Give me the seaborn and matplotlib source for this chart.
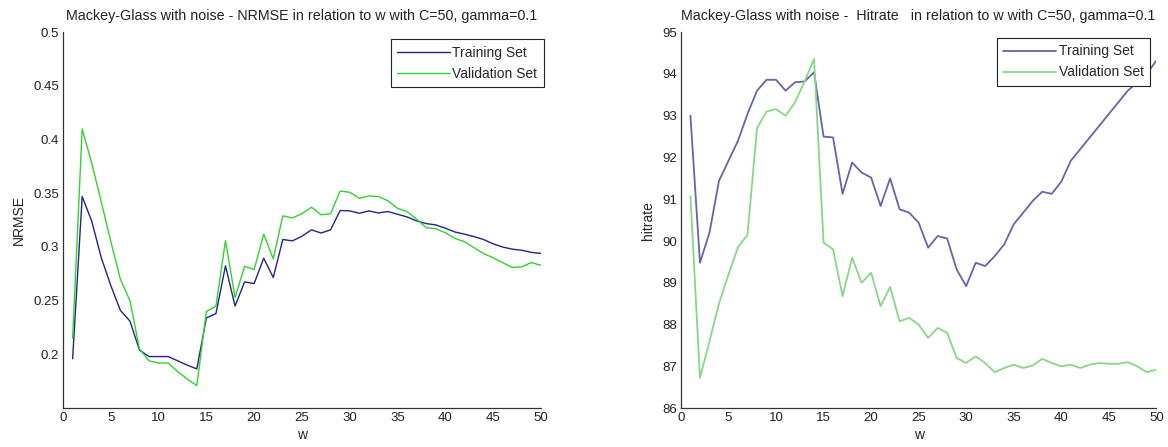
import numpy as np
import pandas as pd
import matplotlib
matplotlib.use("Agg")
import matplotlib.pyplot as plt
import seaborn as sns

# window sizes
w = list(range(1, 51))

# NRMSE per window size
nrmse_train = [0.196, 0.347, 0.324, 0.290, 0.264, 0.241, 0.231, 0.204, 0.198, 0.198,
               0.198, 0.194, 0.190, 0.1865, 0.234, 0.238, 0.2825, 0.245, 0.2675, 0.266,
               0.2896, 0.2716, 0.307, 0.3057, 0.310, 0.316, 0.313, 0.316, 0.334, 0.3336,
               0.3314, 0.3336, 0.3317, 0.333, 0.3305, 0.328, 0.3243, 0.3218, 0.3206, 0.3175,
               0.314, 0.312, 0.3097, 0.307, 0.303, 0.300, 0.298, 0.297, 0.295, 0.294]
nrmse_valid = [0.215, 0.410, 0.378, 0.342, 0.305, 0.270, 0.250, 0.205, 0.194, 0.192,
               0.192, 0.184, 0.177, 0.171, 0.240, 0.245, 0.306, 0.253, 0.282, 0.279,
               0.312, 0.289, 0.329, 0.327, 0.331, 0.337, 0.330, 0.331, 0.352, 0.351,
               0.3454, 0.3475, 0.347, 0.343, 0.336, 0.333, 0.326, 0.318, 0.317, 0.3134,
               0.308, 0.305, 0.2995, 0.294, 0.290, 0.2855, 0.281, 0.2815, 0.2855, 0.283]

# hitrate per window size
hit_train = [93.0, 89.48, 90.2, 91.44, 91.92, 92.4, 93.04, 93.6, 93.86, 93.86,
             93.6, 93.8, 93.82, 94.04, 92.5, 92.48, 91.13, 91.88, 91.64, 91.52,
             90.84, 91.5, 90.76, 90.68, 90.44, 89.84, 90.12, 90.06, 89.32, 88.92,
             89.48, 89.4, 89.64, 89.92, 90.4, 90.68, 90.96, 91.18, 91.13, 91.42,
             91.92, 92.2, 92.48, 92.76, 93.04, 93.32, 93.6, 93.8, 94.0, 94.32]
hit_valid = [91.08, 86.72, 87.6, 88.5, 89.2, 89.85, 90.15, 92.7, 93.1, 93.16,
             93.0, 93.32, 93.82, 94.36, 89.96, 89.8, 88.68, 89.6, 89.0, 89.24,
             88.44, 88.9, 88.08, 88.16, 88.0, 87.68, 87.92, 87.8, 87.2, 87.08,
             87.24, 87.08, 86.86, 86.96, 87.04, 86.96, 87.02, 87.18, 87.08, 87.0,
             87.04, 86.96, 87.04, 87.08, 87.06, 87.06, 87.1, 87.0, 86.86, 86.92]

series_names = ["Training Set", "Validation Set"]
x_ticks = list(range(0, 51, 5))
nrmse_ticks = [0.2, 0.25, 0.3, 0.35, 0.4, 0.45, 0.5]
nrmse_ticklabels = ["0.2", "0.25", "0.3", "0.35", "0.4", "0.45", "0.5"]
hit_ticks = list(range(86, 96))

left_title = "Mackey-Glass with noise - NRMSE in relation to w with C=50, gamma=0.1"
right_title = "Mackey-Glass with noise -  Hitrate   in relation to w with C=50, gamma=0.1"

sns.set_theme(style="white")
plt.rcParams["font.family"] = ["Liberation Sans", "DejaVu Sans"]


def long_frame(train, valid):
    return pd.DataFrame({
        "w": w + w,
        "value": train + valid,
        "set": [series_names[0]] * len(w) + [series_names[1]] * len(w),
    })


def style_axes(ax, xlabel, ylabel, title, ticks, ticklabels, ylim, legend_anchor):
    ax.set_xlim(0, 50)
    ax.set_ylim(*ylim)
    ax.set_xticks(x_ticks)
    ax.set_yticks(ticks)
    ax.set_yticklabels(ticklabels)
    ax.tick_params(direction="in", length=4, width=0.8, labelsize=9.5,
                   colors="#222222", pad=3)
    for side in ("top", "right"):
        ax.spines[side].set_visible(False)
    for side in ("left", "bottom"):
        ax.spines[side].set_color("#333333")
        ax.spines[side].set_linewidth(0.9)
    ax.set_xlabel(xlabel, fontsize=10, labelpad=3)
    ax.set_ylabel(ylabel, fontsize=10, labelpad=5)
    ax.set_title(title, fontsize=10.3, pad=9, color="#222222")
    leg = ax.legend(loc="upper right", bbox_to_anchor=legend_anchor, fontsize=10,
                    frameon=True, fancybox=False, framealpha=1, edgecolor="#222222",
                    handlelength=3.8, borderpad=0.45, labelspacing=0.5,
                    handletextpad=0.2, borderaxespad=0)
    leg.get_frame().set_linewidth(0.8)


fig = plt.figure(figsize=(11.68, 4.47), dpi=100)
ax1 = fig.add_axes([0.054, 0.087, 0.409, 0.841])
ax2 = fig.add_axes([0.583, 0.087, 0.407, 0.841])

sns.lineplot(data=long_frame(nrmse_train, nrmse_valid), x="w", y="value", hue="set",
             palette=["#23238a", "#2fd42f"], linewidth=1.0, ax=ax1)
style_axes(ax1, "w", "NRMSE", left_title, nrmse_ticks, nrmse_ticklabels,
           (0.15, 0.5), (1.006, 0.981))

sns.lineplot(data=long_frame(hit_train, hit_valid), x="w", y="value", hue="set",
             palette=["#6565aa", "#86d886"], linewidth=1.3, ax=ax2)
style_axes(ax2, "w", "hitrate", right_title, hit_ticks, [str(t) for t in hit_ticks],
           (86, 95), (0.987, 0.984))

fig.savefig("out.png", dpi=100)
